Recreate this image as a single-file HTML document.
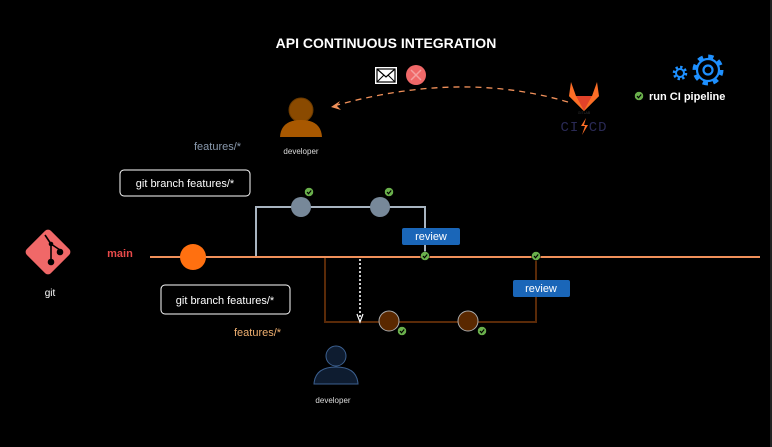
<!DOCTYPE html>
<html><head><meta charset="utf-8"><style>
html,body{margin:0;padding:0;background:#000;}
svg{display:block;font-family:"Liberation Sans",sans-serif;}
</style></head><body>
<svg width="772" height="447" viewBox="0 0 772 447" xmlns="http://www.w3.org/2000/svg">
<defs>
<g id="chk"><circle r="4.5" fill="#6ab04c" stroke="#000" stroke-width="0.5"/><polyline points="-2,0 -0.5,1.7 2.2,-1.5" fill="none" stroke="#000" stroke-width="1.2"/></g>
</defs>
<rect width="772" height="447" fill="#000"/>
<line x1="771" y1="0" x2="771" y2="447" stroke="#444" stroke-width="1"/>
<text x="386" y="48" fill="#fff" font-size="14" font-weight="bold" text-anchor="middle">API CONTINUOUS INTEGRATION</text>

<!-- envelope + x -->
<rect x="375" y="67" width="22" height="17" fill="#fff"/>
<rect x="377" y="69" width="18" height="13" fill="#fff" stroke="#000" stroke-width="1.2"/>
<polyline points="377,69 386,77 395,69" fill="none" stroke="#000" stroke-width="1.2"/>
<line x1="377" y1="82" x2="384" y2="75" stroke="#000"/><line x1="395" y1="82" x2="388" y2="75" stroke="#000"/>
<circle cx="416" cy="75" r="10" fill="#f06868"/>
<line x1="411" y1="70" x2="421" y2="80" stroke="#f5a0a0" stroke-width="1.5"/>
<line x1="421" y1="70" x2="411" y2="80" stroke="#f5a0a0" stroke-width="1.5"/>

<!-- dashed curve -->
<path d="M568 102 Q460 70 334 106" fill="none" stroke="#f0905a" stroke-width="1.3" stroke-dasharray="6 5"/>
<path d="M331 107 L340 101 L337 106 L341 110 Z" fill="#f0905a"/>

<!-- developer top -->
<circle cx="301" cy="110" r="12" fill="#8a4a00" stroke="#6a3a00"/>
<path d="M280 137 Q281 120 301 120 Q321 120 322 137 Z" fill="#a85800"/>
<text x="301" y="154" fill="#ddd" font-size="8" text-anchor="middle">developer</text>

<!-- gitlab -->
<path d="M571 82 L576 96 L592 96 L597 82 L592 96 L576 96 Z" fill="#e24329"/>
<path d="M571 82 L576 96 L569 96 Z" fill="#fc6d26"/>
<path d="M597 82 L592 96 L599 96 Z" fill="#fc6d26"/>
<path d="M569 96 L584 111 L599 96 Z" fill="#fca326"/>
<path d="M576 96 L584 111 L592 96 Z" fill="#e24329"/>
<path d="M569 96 L584 111 L576 96 Z" fill="#fc6d26"/>
<path d="M599 96 L584 111 L592 96 Z" fill="#fc6d26"/>
<text x="584" y="114" fill="#333" font-size="3.5" text-anchor="middle">GITLAB</text>
<text x="584" y="131" fill="#2a2a55" font-size="14" font-family="Liberation Mono,monospace" text-anchor="middle" letter-spacing="1">CI CD</text>
<path d="M586 118 L581 126 L585 126 L582 135 L588 125 L584 125 Z" fill="#fc6d26"/>

<!-- gears -->
<g fill="none" stroke="#1e90ff">
<circle cx="680" cy="73" r="6" stroke-width="2.5" stroke-dasharray="2.4 2.3"/>
<circle cx="680" cy="73" r="4" stroke-width="2"/>
<circle cx="708" cy="70" r="13.5" stroke-width="4" stroke-dasharray="5.3 5.3"/>
<circle cx="708" cy="70" r="11" stroke-width="2.2"/>
<circle cx="708" cy="70" r="4.5" stroke-width="2.2"/>
</g>
<use href="#chk" x="639" y="96"/>
<text x="649" y="100" fill="#fff" font-size="11" font-weight="bold">run CI pipeline</text>

<text x="194" y="150" fill="#8a9aae" font-size="11">features/*</text>
<rect x="120" y="170" width="130" height="26" rx="4" fill="#000" stroke="#fff"/>
<text x="185" y="187" fill="#fff" font-size="11" text-anchor="middle">git branch features/*</text>

<!-- git logo -->
<rect x="31" y="235" width="34" height="34" rx="4" fill="#f06868" transform="rotate(45 48 252)"/>
<g stroke="#000" stroke-width="1.6" fill="#000">
<line x1="45" y1="235" x2="51" y2="244"/><line x1="51" y1="244" x2="51" y2="262"/><line x1="51" y1="244" x2="60" y2="250"/>
<circle cx="51" cy="262" r="2.5"/><circle cx="60" cy="252" r="2.5"/><circle cx="51" cy="244" r="1.5"/>
</g>
<text x="50" y="296" fill="#fff" font-size="10" text-anchor="middle">git</text>
<text x="120" y="257" fill="#e84a4a" font-size="11" font-weight="bold" text-anchor="middle">main</text>

<!-- gray branch -->
<polyline points="256,257 256,207 425,207 425,257" fill="none" stroke="#a8b4c0" stroke-width="2"/>
<!-- brown branch -->
<polyline points="325,257 325,322 536,322 536,257" fill="none" stroke="#5a2a08" stroke-width="2"/>
<!-- main -->
<line x1="150" y1="257" x2="760" y2="257" stroke="#f0905a" stroke-width="2"/>
<circle cx="193" cy="257" r="13" fill="#ff7010"/>

<circle cx="301" cy="207" r="10" fill="#778899"/>
<circle cx="380" cy="207" r="10" fill="#778899"/>
<circle cx="389" cy="321" r="10" fill="#5a2800" stroke="#aaa" stroke-width="1"/>
<circle cx="468" cy="321" r="10" fill="#5a2800" stroke="#aaa" stroke-width="1"/>

<use href="#chk" x="309" y="192"/><use href="#chk" x="389" y="192"/>
<use href="#chk" x="425" y="256"/><use href="#chk" x="536" y="256"/>
<use href="#chk" x="402" y="331"/><use href="#chk" x="482" y="331"/>

<rect x="402" y="228" width="58" height="17" rx="2" fill="#1a66b8"/>
<text x="431" y="240" fill="#fff" font-size="11" text-anchor="middle">review</text>
<rect x="513" y="280" width="57" height="17" rx="2" fill="#1a66b8"/>
<text x="541" y="292" fill="#fff" font-size="11" text-anchor="middle">review</text>

<line x1="360" y1="259" x2="360" y2="318" stroke="#fff" stroke-width="1.6" stroke-dasharray="2 2"/>
<polyline points="357,314 360,322 363,314" fill="none" stroke="#fff" stroke-width="1.2"/>

<rect x="161" y="285" width="129" height="29" rx="4" fill="#000" stroke="#fff"/>
<text x="225" y="304" fill="#fff" font-size="11" text-anchor="middle">git branch features/*</text>
<text x="234" y="336" fill="#f0b070" font-size="11">features/*</text>

<circle cx="336" cy="356" r="10" fill="#0e1c30" stroke="#3c6090"/>
<path d="M314 384 Q315 367 336 367 Q357 367 358 384 Z" fill="#0e1c30" stroke="#3c6090"/>
<text x="333" y="403" fill="#ddd" font-size="8" text-anchor="middle">developer</text>
</svg>
</body></html>
